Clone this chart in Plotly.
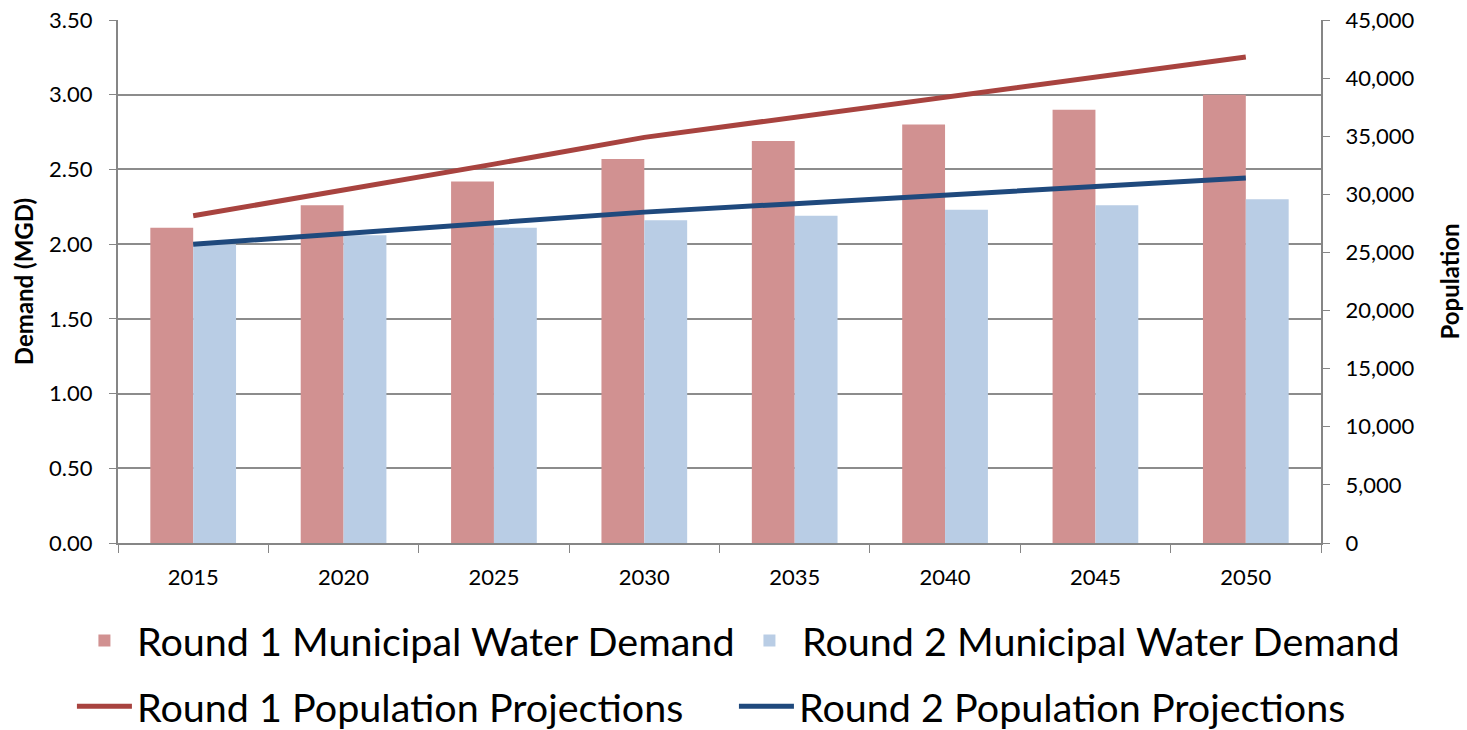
import plotly.graph_objects as go

years = ["2015", "2020", "2025", "2030", "2035", "2040", "2045", "2050"]
r1_demand = [2.11, 2.26, 2.42, 2.57, 2.69, 2.80, 2.90, 3.00]
r2_demand = [2.00, 2.06, 2.11, 2.16, 2.19, 2.23, 2.26, 2.30]
r1_pop = [28150, 30350, 32600, 34900, 36640, 38370, 40090, 41815]
r2_pop = [25700, 26650, 27580, 28470, 29200, 29930, 30660, 31400]

FONT = "Lato"

fig = go.Figure()
fig.add_trace(go.Bar(x=years, y=r1_demand, name="Round 1 Municipal Water Demand",
                     marker=dict(color="#D19191", line=dict(width=0)), legend="legend"))
fig.add_trace(go.Bar(x=years, y=r2_demand, name="Round 2 Municipal Water Demand",
                     marker=dict(color="#B9CDE5", line=dict(width=0)), legend="legend2"))
fig.add_trace(go.Scatter(x=years, y=r1_pop, name="Round 1 Population Projections", mode="lines",
                         line=dict(color="#A8433F", width=5), yaxis="y2", legend="legend3"))
fig.add_trace(go.Scatter(x=years, y=r2_pop, name="Round 2 Population Projections", mode="lines",
                         line=dict(color="#1F497D", width=5), yaxis="y2", legend="legend4"))

legend_common = dict(orientation="h", xanchor="left", yanchor="middle",
                     font=dict(family=FONT, size=39.5, color="#000000"),
                     bgcolor="rgba(0,0,0,0)", itemwidth=55)

fig.update_layout(
    width=1467, height=730,
    margin=dict(l=118, r=146, t=20, b=187, autoexpand=False),
    paper_bgcolor="white", plot_bgcolor="white",
    barmode="group", bargap=0.43, bargroupgap=0,
    font=dict(family=FONT, size=20, color="#000000"),
    xaxis=dict(type="category", tickson="boundaries", ticks="outside", ticklen=8,
               tickcolor="#868686", showline=True, linecolor="#868686", linewidth=2,
               showgrid=False, tickfont=dict(size=22, family=FONT), ticklabelstandoff=14),
    yaxis=dict(range=[0, 3.5], dtick=0.5, tickformat=".2f", ticks="outside", ticklen=7,
               tickcolor="#868686", showline=True, linecolor="#868686", linewidth=2,
               showgrid=True, gridcolor="#8C8C8C", gridwidth=1.6, zeroline=False,
               tickfont=dict(size=22, family=FONT), ticklabelstandoff=12,
               ticklabeloverflow="allow",
               title=dict(text="<b>Demand (MGD)</b>", font=dict(size=24, family=FONT), standoff=9)),
    yaxis2=dict(range=[0, 45000], dtick=5000, tickformat=",", overlaying="y", side="right",
                ticks="outside", ticklen=7, tickcolor="#868686", showline=True,
                linecolor="#868686", linewidth=2, showgrid=False, zeroline=False,
                tickprefix="\u2002", ticklabeloverflow="allow",
                tickfont=dict(size=22, family=FONT),
                title=dict(text="<b>Population</b>", font=dict(size=24, family=FONT), standoff=29)),
    legend=dict(x=-0.0383, y=-0.187, **legend_common),
    legend2=dict(x=0.5145, y=-0.187, **legend_common),
    legend3=dict(x=-0.0383, y=-0.313, **legend_common),
    legend4=dict(x=0.5120, y=-0.313, **legend_common),
    showlegend=True,
)

fig.write_html("out.html", config={"displayModeBar": False},
               post_script="document.body.style.margin='0px';")
